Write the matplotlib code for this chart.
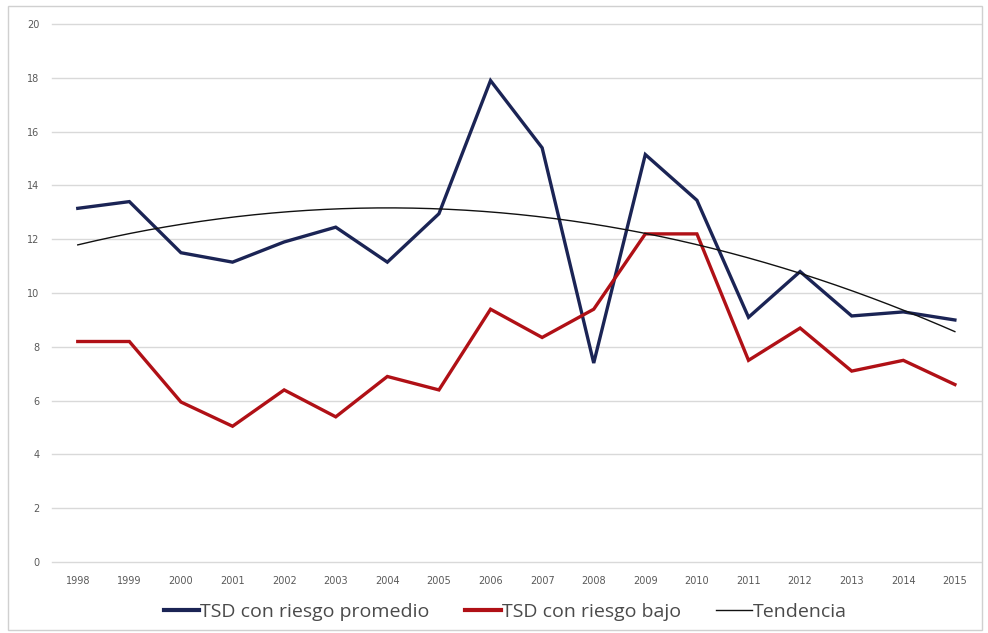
import numpy as np
import matplotlib.pyplot as plt
from matplotlib.patches import Rectangle

years = list(range(1998, 2016))
riesgo_promedio = [13.15, 13.4, 11.5, 11.15, 11.9, 12.45, 11.15, 12.95, 17.9, 15.4,
                   7.4, 15.15, 13.45, 9.1, 10.8, 9.15, 9.3, 9.0]
riesgo_bajo = [8.2, 8.2, 5.95, 5.05, 6.4, 5.4, 6.9, 6.4, 9.4, 8.35,
               9.4, 12.2, 12.2, 7.5, 8.7, 7.1, 7.5, 6.6]

# polynomial (order 2) trend of the average-risk series, as in the spreadsheet
x = np.array(years, dtype=float)
coef = np.polyfit(x, riesgo_promedio, 2)
xs = np.linspace(x[0], x[-1], 200)
trend = np.polyval(coef, xs)

fig = plt.figure(figsize=(9.88, 6.33), dpi=100)
ax = fig.add_axes([0.0526, 0.112, 0.940, 0.850])

ax.plot(years, riesgo_promedio, color="#1b2455", lw=2.4, solid_joinstyle="miter",
        label="TSD con riesgo promedio", zorder=3)
ax.plot(years, riesgo_bajo, color="#b01016", lw=2.4, solid_joinstyle="miter",
        label="TSD con riesgo bajo", zorder=3)
ax.plot(xs, trend, color="#111111", lw=1.0, label="Tendencia", zorder=4)

ax.set_xlim(1997.5, 2015.5)
ax.set_ylim(0, 20)
ax.set_yticks(range(0, 21, 2))
ax.set_xticks(years)
ax.grid(axis="y", color="#d9d9d9", lw=1.0)
for gl in ax.get_ygridlines():
    gl.set_clip_on(False)
ax.set_axisbelow(True)
for s in ax.spines.values():
    s.set_visible(False)
ax.tick_params(length=0, labelsize=7, labelcolor="#595959", pad=10)
ax.tick_params(axis="y", pad=9)

leg = ax.legend(loc="upper center", bbox_to_anchor=(0.488, -0.043), ncol=3, frameon=False,
                prop={"family": "Open Sans", "size": 14}, handlelength=1.85,
                handletextpad=0.05, columnspacing=1.8, labelcolor="#4a4a4a")
for h in leg.get_lines()[:2]:
    h.set_linewidth(3.0)

fig.patches.append(Rectangle((0.008, 0.005), 0.986, 0.985, transform=fig.transFigure,
                             fill=False, edgecolor="#d0d0d0", lw=1.0))

fig.savefig("out.png", dpi=100)
